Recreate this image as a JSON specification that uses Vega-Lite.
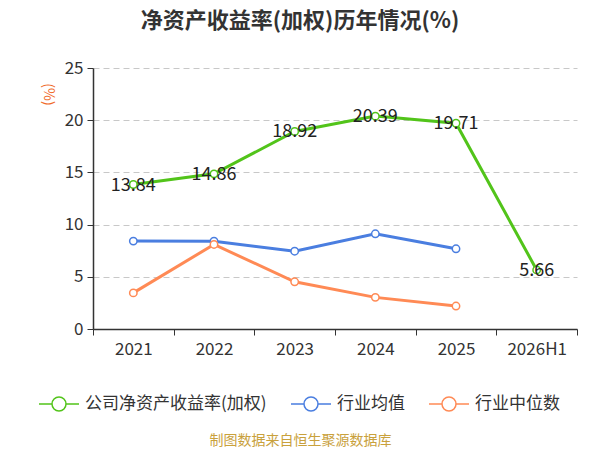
{
  "$schema": "https://vega.github.io/schema/vega-lite/v6.json",
  "autosize": "none",
  "width": 484,
  "height": 261,
  "padding": {"left": 93, "top": 68, "right": 23, "bottom": 121},
  "background": "white",
  "title": {
    "text": "净资产收益率(加权)历年情况(%)",
    "fontSize": 22,
    "fontWeight": "bold",
    "color": "#333333",
    "font": "Noto Sans CJK SC",
    "anchor": "middle",
    "dx": -35,
    "offset": 26
  },
  "config": {
    "font": "Noto Sans CJK SC",
    "view": {"stroke": null},
    "axis": {"labelFont": "Noto Sans CJK SC", "titleFont": "Noto Sans CJK SC"}
  },
  "data": {
    "values": [
      {"year": "2021", "series": "公司净资产收益率(加权)", "value": 13.84},
      {"year": "2022", "series": "公司净资产收益率(加权)", "value": 14.86},
      {"year": "2023", "series": "公司净资产收益率(加权)", "value": 18.92},
      {"year": "2024", "series": "公司净资产收益率(加权)", "value": 20.39},
      {"year": "2025", "series": "公司净资产收益率(加权)", "value": 19.71},
      {"year": "2026H1", "series": "公司净资产收益率(加权)", "value": 5.66},
      {"year": "2021", "series": "行业均值", "value": 8.42},
      {"year": "2022", "series": "行业均值", "value": 8.41},
      {"year": "2023", "series": "行业均值", "value": 7.45},
      {"year": "2024", "series": "行业均值", "value": 9.12},
      {"year": "2025", "series": "行业均值", "value": 7.68},
      {"year": "2021", "series": "行业中位数", "value": 3.46},
      {"year": "2022", "series": "行业中位数", "value": 8.1},
      {"year": "2023", "series": "行业中位数", "value": 4.52},
      {"year": "2024", "series": "行业中位数", "value": 3.03},
      {"year": "2025", "series": "行业中位数", "value": 2.2}
    ]
  },
  "encoding": {
    "x": {
      "field": "year",
      "type": "ordinal",
      "scale": {"domain": ["2021", "2022", "2023", "2024", "2025", "2026H1"], "paddingInner": 0, "paddingOuter": 0},
      "axis": {
        "title": "制图数据来自恒生聚源数据库",
        "titleColor": "#c9a13c",
        "titleFontSize": 14,
        "titleFontWeight": "normal",
        "titleX": 207,
        "titleY": 111,
        "titleAlign": "center",
        "titleBaseline": "middle",
        "labelAngle": 0,
        "labelFontSize": 17,
        "labelColor": "#333333",
        "labelPadding": 6,
        "tickBand": "extent",
        "tickSize": 6,
        "tickColor": "#333333",
        "domainColor": "#333333",
        "domainWidth": 1.5,
        "grid": false
      }
    },
    "y": {
      "field": "value",
      "type": "quantitative",
      "scale": {"domain": [0, 25]},
      "axis": {
        "title": "(%)",
        "titleColor": "#f06a2a",
        "titleFontSize": 14,
        "titleFontWeight": "normal",
        "titleAngle": 90,
        "titleX": -46,
        "titleY": 26,
        "titleAlign": "center",
        "titleBaseline": "middle",
        "values": [0, 5, 10, 15, 20, 25],
        "labelFontSize": 17,
        "labelColor": "#333333",
        "labelPadding": 4,
        "tickSize": 6,
        "tickColor": "#333333",
        "domainColor": "#333333",
        "domainWidth": 1.5,
        "gridColor": "#c8c8c8",
        "gridDash": [6, 4],
        "gridWidth": 1
      }
    }
  },
  "layer": [
    {
      "mark": {"type": "line", "strokeWidth": 3},
      "encoding": {
        "color": {
          "field": "series",
          "type": "nominal",
          "scale": {"domain": ["公司净资产收益率(加权)", "行业均值", "行业中位数"], "range": ["#52c41a", "#4a7ee0", "#ff8a55"]},
          "legend": {
            "title": null,
            "orient": "none",
            "direction": "horizontal",
            "legendX": -45,
            "legendY": 325,
            "symbolType": "M-2,0H-0.7M0.7,0H2M0.7,0A0.7,0.7,0,1,1,-0.7,0A0.7,0.7,0,1,1,0.7,0",
            "symbolSize": 400,
            "symbolStrokeWidth": 1.5,
            "symbolFillColor": "white",
            "labelFontSize": 17,
            "labelLimit": 400,
            "labelColor": "#333333",
            "labelOffset": 15,
            "columnPadding": 21
          }
        }
      }
    },
    {
      "mark": {"type": "point", "filled": true, "fill": "white", "size": 55, "strokeWidth": 1.5, "opacity": 1},
      "encoding": {
        "stroke": {
          "field": "series",
          "type": "nominal",
          "scale": {"domain": ["公司净资产收益率(加权)", "行业均值", "行业中位数"], "range": ["#52c41a", "#4a7ee0", "#ff8a55"]},
          "legend": null
        }
      }
    },
    {
      "transform": [{"filter": "datum.series === '公司净资产收益率(加权)'"}],
      "mark": {"type": "text", "fontSize": 18, "color": "#222222", "baseline": "middle", "dy": 1},
      "encoding": {"text": {"field": "value", "type": "quantitative", "format": ".2f"}}
    }
  ]
}
